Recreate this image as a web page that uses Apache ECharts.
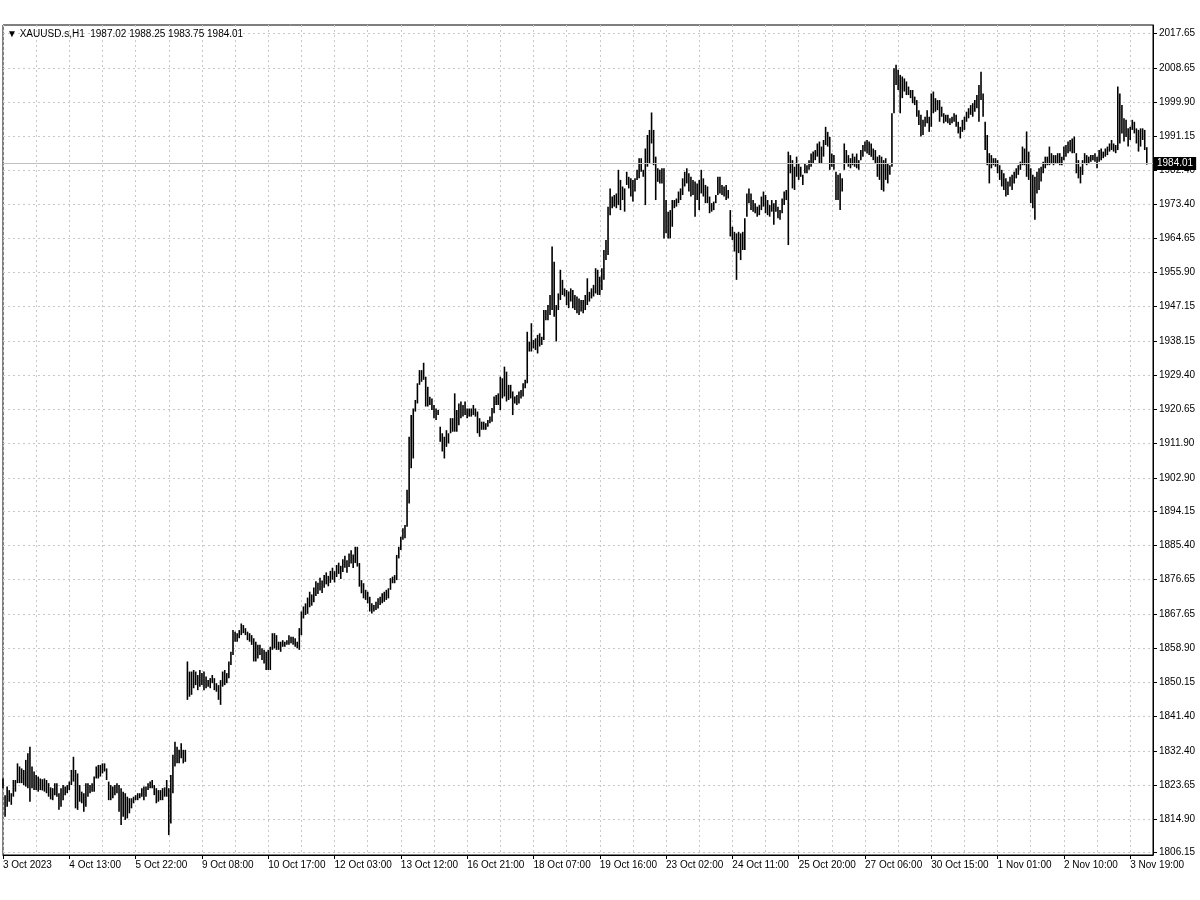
<!DOCTYPE html>
<html>
<head>
<meta charset="utf-8">
<script src="https://cdn.jsdelivr.net/npm/echarts@6/dist/echarts.min.js"></script>
<style>html,body{margin:0;padding:0;background:#fff}#c{width:1200px;height:900px}</style>
</head>
<body>
<div id="c"></div>
<script>
// ---------------- DATA ----------------
const symbolTitle = 'XAUUSD.s,H1';
const lastBarOHLC = [1987.02, 1988.25, 1983.75, 1984.01];

const xTickLabels = ['3 Oct 2023','4 Oct 13:00','5 Oct 22:00','9 Oct 08:00','10 Oct 17:00','12 Oct 03:00',
  '13 Oct 12:00','16 Oct 21:00','18 Oct 07:00','19 Oct 16:00','23 Oct 02:00','24 Oct 11:00',
  '25 Oct 20:00','27 Oct 06:00','30 Oct 15:00','1 Nov 01:00','2 Nov 10:00','3 Nov 19:00'];

const yTickLabels = ['1806.15','1814.90','1823.65','1832.40','1841.40','1850.15','1858.90','1867.65',
  '1876.65','1885.40','1894.15','1902.90','1911.90','1920.65','1929.40','1938.15','1947.15','1955.90',
  '1964.65','1973.40','1982.40','1991.15','1999.90','2008.65','2017.65'];

// hourly bar highs
const highs = [
  // 3 Oct - 6 Oct
  1825.3,1821.0,1823.2,1822.3,1821.5,1824.9,1824.9,1829.2,1828.4,1827.9,
  1827.5,1830.1,1831.8,1833.5,1828.4,1827.1,1826.2,1825.8,1825.3,1825.1,
  1825.3,1824.9,1824.1,1823.0,1822.8,1824.1,1824.1,1821.5,1822.8,1823.6,
  1823.2,1823.6,1824.5,1827.5,1830.9,1827.5,1826.6,1823.6,1821.9,1821.5,
  1824.1,1824.1,1823.6,1824.1,1825.8,1828.4,1828.8,1828.8,1829.2,1829.2,
  1827.9,1824.5,1823.6,1823.2,1823.6,1824.1,1823.6,1822.8,1821.9,1821.5,
  1820.6,1820.2,1820.2,1820.6,1821.0,1821.5,1821.5,1822.8,1823.2,1823.2,
  1824.1,1824.5,1824.9,1823.6,1822.8,1822.3,1822.3,1822.8,1823.0,1824.9,
  1822.8,1826.2,1831.4,1834.8,1833.5,1832.7,1834.4,1832.7,1832.7,
  // 9 Oct - 11 Oct
  1855.5,1852.9,1852.9,1853.3,1852.9,1852.0,1853.3,1852.5,1852.9,1851.6,
  1850.7,1851.2,1852.0,1851.2,1849.9,1849.4,1850.7,1852.9,1853.3,1852.5,
  1855.5,1858.0,1863.6,1863.2,1862.8,1863.6,1865.3,1864.9,1864.1,1863.2,
  1862.8,1862.3,1861.5,1860.6,1859.8,1859.8,1858.9,1858.5,1858.0,1858.5,
  1859.3,1862.8,1862.8,1862.3,1860.6,1860.6,1861.0,1860.6,1861.0,1862.3,
  1861.9,1861.9,1861.5,1860.6,1864.1,1868.4,1869.7,1870.5,
  1872.0,1873.5,1872.8,1874.6,1876.2,1875.8,1877.1,1876.4,1877.8,1878.5,
  1877.6,1878.9,1879.7,1878.8,1880.4,1881.0,1880.2,1881.9,1882.8,1881.6,
  1883.4,1884.2,1883.1,
  // 12 Oct - 16 Oct
  1885.1,1885.1,1880.9,1876.5,1875.7,1874.0,1873.5,1872.2,1870.5,1870.1,
  1870.9,1871.8,1872.2,1873.1,1873.5,1874.0,1874.4,1877.0,1877.4,1877.8,
  1883.0,1885.1,1887.7,1889.9,1890.7,1899.8,1913.5,1919.1,1920.8,1923.0,
  1927.3,1930.7,1930.7,1932.6,1929.0,1926.4,1923.8,1923.4,1921.7,1920.8,
  1920.4,1916.1,1914.4,1913.5,1915.2,1914.4,1918.3,1918.3,1924.7,1920.4,
  1922.1,1922.6,1921.7,1922.6,1920.8,1920.8,1920.8,1921.7,1920.8,1920.0,
  1918.3,
  // 16 Oct - 19 Oct
  1917.4,1917.4,1917.0,1917.8,1918.7,1920.9,1923.9,1924.3,1924.7,1929.0,
  1928.6,1931.6,1930.3,1926.9,1926.9,1925.2,1923.9,1924.3,1925.2,1925.6,
  1927.3,1928.2,1940.6,1938.0,1942.8,1938.5,1938.9,1939.8,1940.2,1939.3,
  1946.2,1946.2,1947.5,1950.1,1962.6,1958.7,1947.5,1950.5,1956.6,1954.0,
  1951.8,1951.4,1951.0,1951.8,1951.4,1950.1,1949.7,1949.2,1948.8,1948.8,
  1950.1,1954.4,1950.9,1951.8,1952.7,1957.0,1956.6,1954.8,
  // 19 Oct - 24 Oct
  1957.0,1961.7,1964.3,1972.9,1977.6,1975.5,1975.9,1976.3,1982.4,1979.8,
  1978.1,1977.6,1981.9,1980.6,1980.2,1979.8,1980.2,1982.4,1985.4,1985.4,
  1982.4,1987.9,1991.4,1992.7,1997.2,1992.7,1985.8,1982.8,1982.4,1982.8,
  1982.8,1974.6,1971.6,1972.0,1974.6,1974.6,1975.0,1976.8,1977.6,1980.2,
  1981.9,1982.8,1981.5,1980.6,1979.8,1979.4,1978.9,1979.8,1982.4,1980.2,
  1978.5,1978.1,1975.5,1973.8,1974.2,1975.9,1980.6,1980.6,1978.5,1978.1,
  1978.5,1977.2,1972.0,1967.7,1966.4,1966.0,1966.4,1966.0,1966.4,1969.9,
  1976.3,1977.6,1976.3,1974.6,1973.8,1972.9,1973.3,
  // 24 Oct - 27 Oct
  1975.5,1976.8,1975.9,1974.6,1973.3,1974.6,1973.8,1974.6,1972.9,1972.0,
  1975.0,1976.8,1977.2,1987.1,1986.2,1984.9,1983.2,1985.8,1984.1,1983.2,
  1981.1,1984.1,1983.6,1984.9,1986.6,1987.1,1987.5,1989.2,1989.7,1988.4,
  1990.1,1993.5,1992.2,1990.9,1986.6,1986.2,1981.9,1981.1,1981.5,1980.2,
  1989.2,1987.5,1986.2,1985.4,1986.6,1985.8,1986.6,1984.9,1987.5,1988.8,
  1989.7,1990.1,1989.7,1989.2,1987.9,1987.5,1985.8,1986.2,1985.8,1984.9,
  1985.4,1984.1,1983.6,
  // 27 Oct - 3 Nov
  1997.0,2008.6,2009.5,2008.2,2006.9,2006.5,2006.0,2005.2,2003.9,2003.0,
  2003.0,2001.3,2000.4,1997.8,1996.6,1995.3,1996.1,1997.8,1996.1,2002.1,
  2002.6,2000.9,2000.4,2000.4,1998.7,1997.0,1996.6,1996.6,1995.7,1996.1,
  1997.0,1996.6,1994.8,1993.5,1995.3,1996.1,1997.4,1998.3,1999.1,1999.6,
  2000.4,2001.7,2004.3,2007.7,2002.1,1994.8,1991.4,1986.7,1986.2,1985.4,
  1985.4,1984.9,1983.6,1982.4,1981.5,1980.2,1979.4,1980.6,1981.1,1981.9,
  1982.8,1983.6,1984.5,1988.4,1987.9,1992.3,1987.1,1982.8,1981.1,1980.6,
  1981.9,1982.8,1983.2,1984.5,1985.8,1985.8,1988.4,1986.7,1986.2,1986.2,
  1986.7,1986.7,1985.8,1988.4,1988.8,1989.7,1990.1,1990.5,1991.0,1986.7,
  1984.9,1983.2,1984.9,1986.7,1986.2,1985.8,1986.2,1986.2,1986.7,1985.8,
  1987.5,1987.9,1987.1,1987.9,1988.4,1989.2,1990.1,1989.2,1988.8,2003.9,
  2002.1,1999.1,1995.7,1995.3,1993.1,1993.5,1995.3,1994.8,1993.1,1992.7,
  1993.1,1993.1,1992.7,1988.25
];

// hourly bar lows
const lows = [
  // 3 Oct - 6 Oct
  1822.8,1815.4,1818.0,1819.3,1818.5,1820.6,1821.9,1824.1,1824.1,1824.1,
  1823.6,1823.2,1822.8,1819.3,1822.8,1822.3,1822.3,1821.9,1822.3,1822.2,
  1821.9,1821.5,1820.6,1819.9,1819.7,1821.0,1820.6,1817.2,1818.0,1819.7,
  1821.0,1821.5,1822.3,1823.6,1824.5,1817.6,1817.2,1819.3,1818.9,1816.7,
  1818.0,1820.6,1821.5,1821.9,1821.9,1825.3,1825.3,1825.8,1826.6,1827.1,
  1824.9,1819.7,1819.7,1820.2,1821.0,1821.5,1816.7,1813.3,1815.4,1814.6,
  1815.0,1816.3,1817.6,1818.9,1819.7,1819.7,1820.2,1820.6,1819.7,1820.6,
  1822.3,1822.8,1822.8,1821.0,1818.9,1819.3,1819.7,1819.7,1820.6,1820.6,
  1810.7,1813.7,1821.5,1828.4,1829.2,1829.2,1830.5,1829.2,1829.6,
  // 9 Oct - 11 Oct
  1845.6,1846.4,1846.9,1848.6,1849.4,1848.1,1849.0,1849.4,1848.1,1848.6,
  1849.0,1848.6,1849.9,1848.1,1847.7,1845.6,1844.3,1849.0,1849.4,1849.9,
  1851.2,1854.6,1857.2,1860.6,1860.6,1861.5,1862.3,1862.8,1862.3,1861.0,
  1860.6,1859.8,1855.5,1855.5,1856.3,1857.2,1855.9,1855.0,1853.3,1853.3,
  1853.3,1858.5,1858.9,1858.5,1858.5,1858.0,1859.3,1859.3,1859.8,1859.8,
  1860.2,1859.8,1859.3,1858.9,1858.5,1862.3,1866.6,1867.5,
  1867.8,1869.5,1869.9,1870.8,1872.4,1872.9,1873.8,1873.2,1874.5,1875.4,
  1874.9,1875.8,1876.6,1875.9,1877.3,1878.1,1876.8,1878.6,1879.7,1878.4,
  1879.9,1880.8,1879.6,
  // 12 Oct - 16 Oct
  1880.9,1880.0,1874.8,1873.1,1871.8,1871.4,1870.5,1868.4,1867.9,1868.4,
  1868.8,1869.2,1870.1,1870.5,1870.9,1871.4,1871.8,1874.0,1875.7,1875.7,
  1876.5,1882.1,1884.3,1886.9,1887.3,1890.3,1896.3,1905.4,1907.9,1920.0,
  1922.1,1926.9,1927.7,1928.2,1921.3,1921.3,1921.7,1920.4,1918.3,1917.8,
  1919.1,1912.2,1909.7,1907.9,1910.9,1911.8,1914.4,1914.8,1914.8,1914.8,
  1916.5,1918.3,1918.7,1919.1,1918.3,1918.7,1918.7,1919.1,1918.7,1914.4,
  1913.5,
  // 16 Oct - 19 Oct
  1915.3,1915.3,1915.3,1916.1,1917.0,1917.4,1919.6,1921.7,1921.7,1920.4,
  1923.4,1923.9,1922.6,1923.0,1923.4,1919.1,1922.1,1921.7,1922.1,1923.4,
  1923.9,1926.0,1927.3,1935.5,1935.5,1936.3,1935.9,1935.0,1936.8,1937.2,
  1938.5,1943.6,1943.6,1944.9,1946.2,1944.5,1938.1,1946.2,1948.8,1950.1,
  1949.7,1947.5,1946.7,1948.4,1946.7,1946.2,1945.4,1944.9,1945.8,1945.4,
  1946.2,1947.5,1948.4,1949.2,1949.7,1950.5,1950.1,1950.1,
  // 19 Oct - 24 Oct
  1951.4,1954.0,1959.1,1960.4,1970.7,1972.5,1972.9,1972.5,1973.3,1972.0,
  1974.6,1971.6,1978.5,1977.6,1975.5,1974.2,1976.8,1979.8,1980.2,1981.9,
  1980.6,1973.3,1983.2,1984.1,1989.2,1983.6,1974.6,1979.3,1978.9,1978.9,
  1964.7,1966.0,1964.7,1964.7,1967.7,1972.5,1972.9,1973.8,1974.6,1975.9,
  1978.1,1978.9,1976.8,1975.5,1975.9,1970.3,1974.6,1972.0,1976.3,1975.5,
  1973.8,1973.8,1971.2,1971.6,1972.0,1973.8,1975.9,1976.3,1975.9,1975.5,
  1974.6,1975.0,1965.2,1964.3,1961.3,1954.0,1960.9,1959.1,1961.7,1961.7,
  1970.3,1973.8,1972.0,1971.6,1971.2,1970.3,1970.7,
  // 24 Oct - 27 Oct
  1972.0,1972.9,1971.2,1970.7,1970.3,1971.6,1968.2,1971.6,1969.9,1969.5,
  1971.2,1973.3,1974.6,1963.0,1981.5,1977.6,1977.2,1980.6,1979.8,1980.6,
  1978.5,1981.5,1981.5,1982.4,1983.2,1984.1,1984.9,1985.8,1984.1,1984.1,
  1985.8,1988.8,1988.4,1982.4,1983.2,1982.4,1974.6,1974.6,1972.0,1976.8,
  1982.4,1984.1,1983.2,1982.8,1983.6,1983.2,1982.8,1982.4,1984.9,1985.8,
  1987.1,1986.6,1986.2,1985.8,1984.9,1984.1,1980.6,1979.8,1977.2,1976.8,
  1979.8,1978.9,1981.1,
  // 27 Oct - 3 Nov
  1983.2,1997.0,2004.3,2003.0,1997.0,2000.9,2002.6,2001.7,2001.7,2000.9,
  1999.6,1999.1,1996.1,1994.0,1991.0,1991.4,1993.5,1994.4,1992.2,1993.5,
  1997.0,1997.4,1997.8,1994.8,1996.1,1994.4,1994.8,1994.4,1994.0,1994.4,
  1994.8,1993.5,1991.8,1990.5,1992.2,1992.7,1994.8,1995.7,1996.6,1996.1,
  1997.4,1998.3,1994.8,2000.4,1996.1,1987.5,1983.6,1978.9,1982.8,1983.6,
  1983.2,1981.5,1979.8,1978.1,1977.2,1975.5,1975.9,1978.1,1977.2,1978.9,
  1980.2,1981.1,1982.4,1983.6,1983.6,1980.6,1979.8,1973.8,1972.5,1969.5,
  1976.3,1977.2,1979.4,1981.5,1982.8,1983.6,1983.6,1984.1,1983.6,1984.1,
  1984.1,1983.6,1983.6,1984.9,1985.8,1986.7,1987.1,1986.7,1986.7,1981.5,
  1980.2,1978.9,1981.1,1984.1,1983.6,1984.1,1984.5,1984.9,1984.5,1982.8,
  1984.5,1984.9,1985.4,1985.8,1986.2,1987.1,1987.5,1987.1,1986.7,1987.5,
  1989.2,1991.8,1989.7,1990.9,1988.4,1990.1,1992.7,1991.8,1989.2,1987.1,
  1988.4,1990.1,1987.5,1983.75
];

// ---------------- LAYOUT / STYLE ----------------
const barsPerLabel = 32;
const barsPerGridLine = 16;
const rightShiftBars = 3;
const FONT = '"Liberation Sans", Arial, sans-serif';

const nSlots = highs.length + rightShiftBars;
const categories = Array.from({length: nSlots}, (_, i) => String(i));
const barData = highs.map((h, i) => [i, h, lows[i]]);
const yTickValues = yTickLabels.map(Number);

const chart = echarts.init(document.getElementById('c'), null, {renderer: 'canvas'});
chart.setOption({
  animation: false,
  backgroundColor: '#ffffff',
  grid: {
    left: 3, right: 47, top: 25, bottom: 45,
    show: true, borderColor: '#000', borderWidth: 1,
    containLabel: false, outerBoundsMode: 'none'
  },
  graphic: [{
    type: 'text', left: 7, top: 29, z: 100,
    style: {
      text: '\u25BC ' + symbolTitle + '  ' + lastBarOHLC.map(v => v.toFixed(2)).join(' '),
      font: '10px ' + FONT, fill: '#000'
    }
  }],
  xAxis: {
    type: 'category', data: categories, boundaryGap: false,
    axisLine: {show: true, lineStyle: {color: '#000', width: 1}},
    axisTick: {show: true, interval: barsPerLabel - 1, length: 4, lineStyle: {color: '#000'}},
    axisLabel: {
      interval: barsPerLabel - 1, align: 'left', margin: 5, color: '#000',
      fontSize: 10, fontFamily: FONT,
      formatter: (v, i) => xTickLabels[i / barsPerLabel] || ''
    },
    splitLine: {show: true, interval: barsPerGridLine - 1, lineStyle: {color: '#c8c8c8', type: [2, 3], width: 1}}
  },
  yAxis: {
    type: 'value', position: 'right', min: 1805.55, max: 2019.78, scale: true,
    axisLine: {show: true, lineStyle: {color: '#000', width: 1}},
    axisTick: {show: true, length: 4, customValues: yTickValues, lineStyle: {color: '#000'}},
    axisLabel: {
      customValues: yTickValues, margin: 6, color: '#000', fontSize: 10, fontFamily: FONT,
      formatter: v => Number(v).toFixed(2)
    },
    splitLine: {show: true, lineStyle: {color: '#c8c8c8', type: [2, 3], width: 1}}
  },
  series: [{
    type: 'custom',
    data: barData,
    encode: {x: 0, y: [1, 2]},
    renderItem: (params, api) => {
      const i = api.value(0);
      const top = api.coord([i, api.value(1)]);
      const bot = api.coord([i, api.value(2)]);
      return {
        type: 'line',
        shape: {x1: top[0], y1: top[1], x2: bot[0], y2: bot[1]},
        style: {stroke: '#000', lineWidth: 1.6}
      };
    },
    markLine: {
      silent: true, symbol: 'none', animation: false,
      lineStyle: {color: '#c0c0c0', type: 'solid', width: 1},
      label: {
        show: true, position: 'end', distance: 1,
        formatter: lastBarOHLC[3].toFixed(2),
        backgroundColor: '#000', color: '#fff', padding: [2, 3, 1, 3],
        fontSize: 10, fontFamily: FONT
      },
      data: [{yAxis: lastBarOHLC[3]}]
    }
  }]
});
</script>
</body>
</html>
